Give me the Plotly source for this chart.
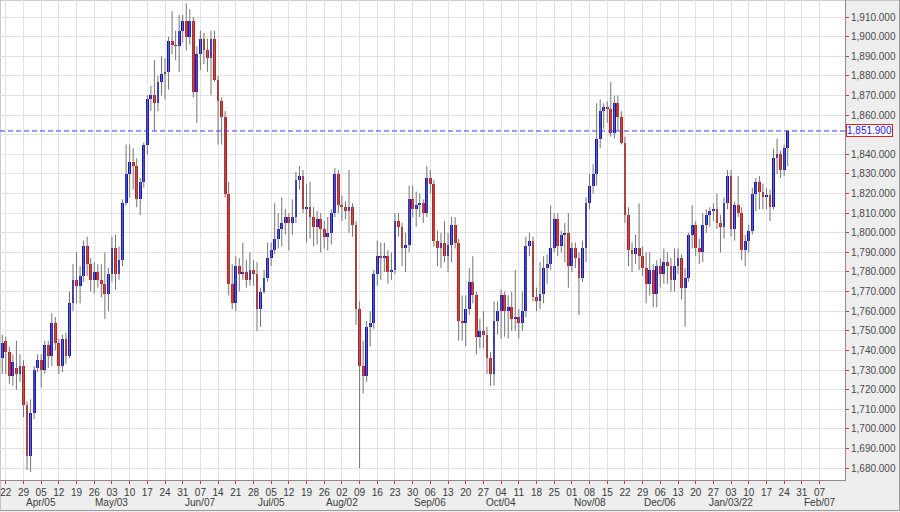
import pandas as pd
import plotly.graph_objects as go

# ---------------- data ----------------
first_day = "2021-03-19"
last_day = "2022-01-25"
axis_end = "2022-02-11"
first_tick = "2021-03-22"

opens = [1736, 1745, 1739, 1727, 1731, 1728, 1732, 1712, 1686, 1708,
         1731, 1735, 1730, 1743, 1737, 1754, 1744, 1732, 1746, 1737,
         1764, 1776, 1773, 1778, 1793, 1784, 1776, 1780, 1776, 1774,
         1769, 1779, 1792, 1779, 1786, 1815, 1830, 1836, 1834, 1817,
         1826, 1845, 1868, 1870, 1866, 1877, 1881, 1882, 1898, 1896,
         1895, 1903, 1908, 1900, 1908, 1872, 1891, 1899, 1893, 1889,
         1899, 1878, 1867, 1859, 1820, 1774, 1764, 1783, 1779, 1780,
         1776, 1781, 1779, 1761, 1770, 1777, 1787, 1791, 1797, 1802,
         1805, 1808, 1805, 1808, 1827, 1829, 1812, 1813, 1808, 1803,
         1807, 1802, 1798, 1800, 1810, 1830, 1814, 1813, 1811, 1813,
         1804, 1761, 1732, 1727, 1752, 1754, 1779, 1788, 1787, 1788,
         1780, 1781, 1806, 1803, 1792, 1794, 1817, 1812, 1814, 1815,
         1810, 1828, 1825, 1796, 1792, 1795, 1788, 1794, 1804, 1795,
         1755, 1754, 1761, 1775, 1768, 1747, 1750, 1748, 1736, 1728,
         1755, 1760, 1768, 1760, 1762, 1756, 1757, 1754, 1760, 1793,
         1796, 1767, 1765, 1769, 1782, 1784, 1792, 1807, 1793, 1799,
         1800, 1783, 1792, 1787, 1777, 1792, 1815, 1824, 1830, 1848,
         1862, 1864, 1863, 1851, 1866, 1859, 1846, 1809, 1791, 1789,
         1792, 1788, 1782, 1774, 1781, 1769, 1783, 1779, 1785, 1783,
         1776, 1783, 1787, 1772, 1777, 1799, 1804, 1792, 1790, 1804,
         1809, 1811, 1812, 1805, 1803, 1815, 1829, 1802, 1814, 1810,
         1791, 1796, 1801, 1820, 1826, 1821, 1818, 1819, 1813, 1838,
         1840, 1832, 1843]
highs = [1748, 1747, 1742, 1738, 1745, 1738, 1735, 1714, 1715, 1732,
         1738, 1738, 1745, 1745, 1759, 1757, 1746, 1748, 1749, 1770,
         1784, 1790, 1783, 1796, 1798, 1787, 1785, 1784, 1784, 1790,
         1782, 1798, 1799, 1793, 1817, 1845, 1845, 1843, 1838, 1828,
         1846, 1870, 1875, 1888, 1880, 1890, 1889, 1900, 1913, 1903,
         1911, 1911, 1917, 1914, 1910, 1895, 1903, 1902, 1899, 1903,
         1903, 1880, 1869, 1862, 1826, 1784, 1788, 1787, 1795, 1786,
         1790, 1786, 1785, 1772, 1781, 1795, 1795, 1815, 1810, 1818,
         1812, 1810, 1817, 1831, 1834, 1832, 1825, 1826, 1813, 1811,
         1810, 1806, 1808, 1812, 1833, 1832, 1819, 1816, 1832, 1815,
         1806, 1765, 1745, 1755, 1760, 1781, 1796, 1795, 1795, 1791,
         1790, 1810, 1810, 1805, 1800, 1824, 1824, 1821, 1820, 1817,
         1834, 1832, 1827, 1801, 1800, 1806, 1800, 1808, 1808, 1797,
         1768, 1768, 1782, 1788, 1770, 1756, 1760, 1752, 1739, 1765,
         1765, 1771, 1770, 1768, 1770, 1781, 1761, 1770, 1798, 1800,
         1798, 1772, 1785, 1788, 1789, 1814, 1810, 1810, 1801, 1805,
         1810, 1795, 1795, 1790, 1796, 1818, 1830, 1835, 1866, 1868,
         1866, 1867, 1877, 1870, 1870, 1862, 1849, 1813, 1795, 1799,
         1815, 1793, 1790, 1790, 1784, 1786, 1787, 1792, 1790, 1787,
         1792, 1792, 1789, 1782, 1800, 1814, 1806, 1797, 1810, 1812,
         1813, 1815, 1820, 1809, 1818, 1832, 1832, 1816, 1829, 1813,
         1799, 1804, 1823, 1828, 1829, 1825, 1823, 1822, 1843, 1848,
         1842, 1845, 1852.5]
lows = [1728, 1728, 1723, 1722, 1720, 1724, 1706, 1679, 1678, 1705,
        1729, 1721, 1728, 1731, 1732, 1740, 1728, 1729, 1733, 1736,
        1760, 1764, 1764, 1775, 1778, 1770, 1769, 1772, 1767, 1756,
        1760, 1775, 1771, 1776, 1783, 1814, 1818, 1822, 1813, 1809,
        1823, 1840, 1862, 1852, 1862, 1870, 1868, 1873, 1891, 1888,
        1882, 1897, 1893, 1896, 1869, 1856, 1883, 1886, 1882, 1870,
        1877, 1845, 1845, 1818, 1768, 1761, 1760, 1770, 1776, 1772,
        1773, 1773, 1750, 1752, 1769, 1775, 1783, 1789, 1792, 1793,
        1799, 1791, 1799, 1805, 1822, 1810, 1795, 1797, 1793, 1794,
        1790, 1792, 1791, 1794, 1808, 1810, 1806, 1807, 1800, 1798,
        1753, 1680, 1718, 1724, 1742, 1751, 1773, 1776, 1780, 1774,
        1776, 1779, 1798, 1783, 1780, 1790, 1808, 1803, 1808, 1805,
        1808, 1820, 1793, 1783, 1782, 1785, 1780, 1785, 1792, 1745,
        1745, 1742, 1758, 1764, 1738, 1741, 1741, 1728, 1722, 1722,
        1748, 1746, 1747, 1746, 1750, 1750, 1746, 1750, 1757, 1788,
        1765, 1760, 1761, 1764, 1774, 1781, 1790, 1788, 1790, 1785,
        1772, 1780, 1782, 1758, 1775, 1785, 1812, 1820, 1824, 1843,
        1853, 1856, 1849, 1848, 1852, 1845, 1805, 1783, 1780, 1784,
        1781, 1778, 1764, 1768, 1762, 1762, 1772, 1774, 1774, 1770,
        1770, 1779, 1766, 1752, 1775, 1792, 1788, 1784, 1785, 1800,
        1803, 1806, 1802, 1790, 1797, 1812, 1798, 1796, 1808, 1786,
        1783, 1790, 1799, 1811, 1812, 1812, 1812, 1806, 1812, 1830,
        1828, 1829, 1834]
closes = [1744, 1739, 1727, 1734, 1728, 1732, 1712, 1686, 1708, 1730,
          1735, 1730, 1743, 1737, 1754, 1744, 1732, 1746, 1737, 1764,
          1776, 1773, 1778, 1793, 1784, 1776, 1780, 1776, 1774, 1769,
          1779, 1792, 1779, 1786, 1815, 1830, 1836, 1834, 1817, 1826,
          1845, 1868, 1870, 1866, 1877, 1881, 1882, 1898, 1896, 1895,
          1903, 1908, 1900, 1908, 1872, 1891, 1899, 1893, 1889, 1899,
          1878, 1867, 1859, 1820, 1774, 1764, 1783, 1779, 1780, 1776,
          1781, 1779, 1761, 1770, 1777, 1787, 1791, 1797, 1802, 1805,
          1808, 1805, 1808, 1827, 1829, 1812, 1813, 1808, 1803, 1807,
          1802, 1798, 1800, 1810, 1830, 1814, 1813, 1811, 1813, 1804,
          1761, 1732, 1727, 1752, 1754, 1779, 1788, 1787, 1788, 1780,
          1781, 1806, 1803, 1792, 1794, 1817, 1812, 1814, 1815, 1810,
          1828, 1825, 1796, 1792, 1795, 1788, 1794, 1804, 1795, 1755,
          1754, 1761, 1775, 1768, 1747, 1750, 1748, 1736, 1728, 1755,
          1760, 1768, 1760, 1762, 1756, 1757, 1754, 1760, 1793, 1796,
          1767, 1765, 1769, 1782, 1784, 1792, 1807, 1793, 1799, 1800,
          1783, 1792, 1787, 1777, 1792, 1815, 1824, 1830, 1848, 1862,
          1864, 1863, 1851, 1866, 1859, 1846, 1809, 1791, 1789, 1792,
          1788, 1782, 1774, 1781, 1769, 1783, 1779, 1785, 1783, 1776,
          1783, 1787, 1772, 1777, 1799, 1804, 1792, 1790, 1804, 1809,
          1811, 1812, 1805, 1803, 1815, 1829, 1802, 1814, 1810, 1791,
          1796, 1801, 1820, 1826, 1821, 1818, 1819, 1813, 1838, 1840,
          1832, 1843, 1851.9]

price_ticks = list(range(1680, 1911, 10))

month_labels = ["Apr/05", "May/03", "Jun/07", "Jul/05", "Aug/02", "Sep/06",
                "Oct/04", "Nov/08", "Dec/06", "Jan/03/22", "Feb/07"]
month_label_dates = ["2021-04-05", "2021-05-03", "2021-06-07", "2021-07-05",
                     "2021-08-02", "2021-09-06", "2021-10-04", "2021-11-08",
                     "2021-12-06", "2022-01-03", "2022-02-07"]

# ---------------- styling ----------------
UP = "#1010e0"
DOWN = "#e01010"
WICK = "#747474"
GRID = "#e2e2e2"
TICK_RED = "#e03030"
FONT = "Liberation Sans, Arial, sans-serif"

axis_days = pd.bdate_range(first_day, axis_end)
pos_of = {d: i for i, d in enumerate(axis_days)}
dates = pd.bdate_range(first_day, last_day)
n = len(dates)
assert len(opens) == n and len(highs) == n and len(lows) == n and len(closes) == n, (
    n, len(opens), len(highs), len(lows), len(closes))
x = [pos_of[d] for d in dates]

mondays = [d for d in axis_days if d.weekday() == 0 and d >= pd.Timestamp(first_tick)]
tickvals = [pos_of[d] for d in mondays]
ticktext = [d.strftime("%d") for d in mondays]

last_price = closes[-1]
# the current-price box covers the tick label next to it, as in the reference
price_ticktext = ["" if abs(v - last_price) < 6 else f"{v:,.3f}" for v in price_ticks]

wx, wy = [], []
for xi, lo, hi in zip(x, lows, highs):
    wx += [xi, xi, None]
    wy += [lo, hi, None]

body_base = [min(o, c) for o, c in zip(opens, closes)]
body_h = [max(abs(c - o), 0.5) for o, c in zip(opens, closes)]
body_col = [UP if c >= o else DOWN for o, c in zip(opens, closes)]

fig = go.Figure()
fig.add_trace(go.Scatter(x=wx, y=wy, mode="lines",
                         line=dict(color=WICK, width=1), hoverinfo="skip",
                         showlegend=False))
fig.add_trace(go.Bar(x=x, y=body_h, base=body_base, width=0.8,
                     marker=dict(color=body_col, line=dict(width=0)),
                     showlegend=False))

x_first = pos_of[pd.Timestamp(first_tick)]

fig.update_layout(
    width=900, height=512,
    margin=dict(l=0, r=55, t=0, b=32, autoexpand=False),
    paper_bgcolor="#eeeeee",
    plot_bgcolor="#ffffff",
    font=dict(family=FONT, size=10, color="#3a3a3a"),
    bargap=0,
    showlegend=False,
    xaxis=dict(
        range=[x_first - 1.64, x_first + 237.2],
        tickmode="array", tickvals=tickvals, ticktext=ticktext,
        showgrid=True, gridcolor=GRID, gridwidth=1, zeroline=False,
        ticks="outside", ticklen=3, tickcolor=TICK_RED, tickwidth=1,
        showline=True, linecolor="#8c8c8c", linewidth=1,
        tickfont=dict(size=10, color="#3a3a3a"),
        automargin=False,
    ),
    yaxis=dict(
        side="right",
        range=[1673.9, 1918.7],
        tickmode="array", tickvals=price_ticks, ticktext=price_ticktext,
        showgrid=True, gridcolor=GRID, gridwidth=1, zeroline=False,
        ticks="outside", ticklen=3, tickcolor=TICK_RED, tickwidth=1,
        showline=True, linecolor="#8c8c8c", linewidth=1,
        tickfont=dict(size=10, color="#4a4a4a"),
        automargin=False,
    ),
    shapes=[
        dict(type="line", xref="paper", yref="y", x0=0, x1=1,
             y0=last_price, y1=last_price,
             line=dict(color="#3c3cf0", width=1, dash="5px,3px")),
        dict(type="rect", xref="paper", yref="paper",
             x0=0, x1=899.5 / 845, y0=-30.5 / 480, y1=1,
             line=dict(color="#9a9a9a", width=1), layer="below"),
    ],
)

annotations = []
for lab, ds in zip(month_labels, month_label_dates):
    annotations.append(dict(x=pos_of[pd.Timestamp(ds)], xref="x", y=-22.5 / 480,
                            yref="paper", text=lab, showarrow=False,
                            xanchor="center", yanchor="middle",
                            font=dict(size=10, color="#3a3a3a")))
annotations.append(dict(x=1, xref="paper", xanchor="left", xshift=1,
                        y=last_price, yref="y", yanchor="middle",
                        text=f"{last_price:,.3f}", showarrow=False,
                        font=dict(size=10, color="#2020f0"),
                        bgcolor="#ffffff", bordercolor="#e02020",
                        borderwidth=1, borderpad=0))
fig.update_layout(annotations=annotations)

fig.write_html("out.html",
               config={"displayModeBar": False, "staticPlot": True},
               post_script="document.body.style.margin='0';document.body.style.overflow='hidden';")
